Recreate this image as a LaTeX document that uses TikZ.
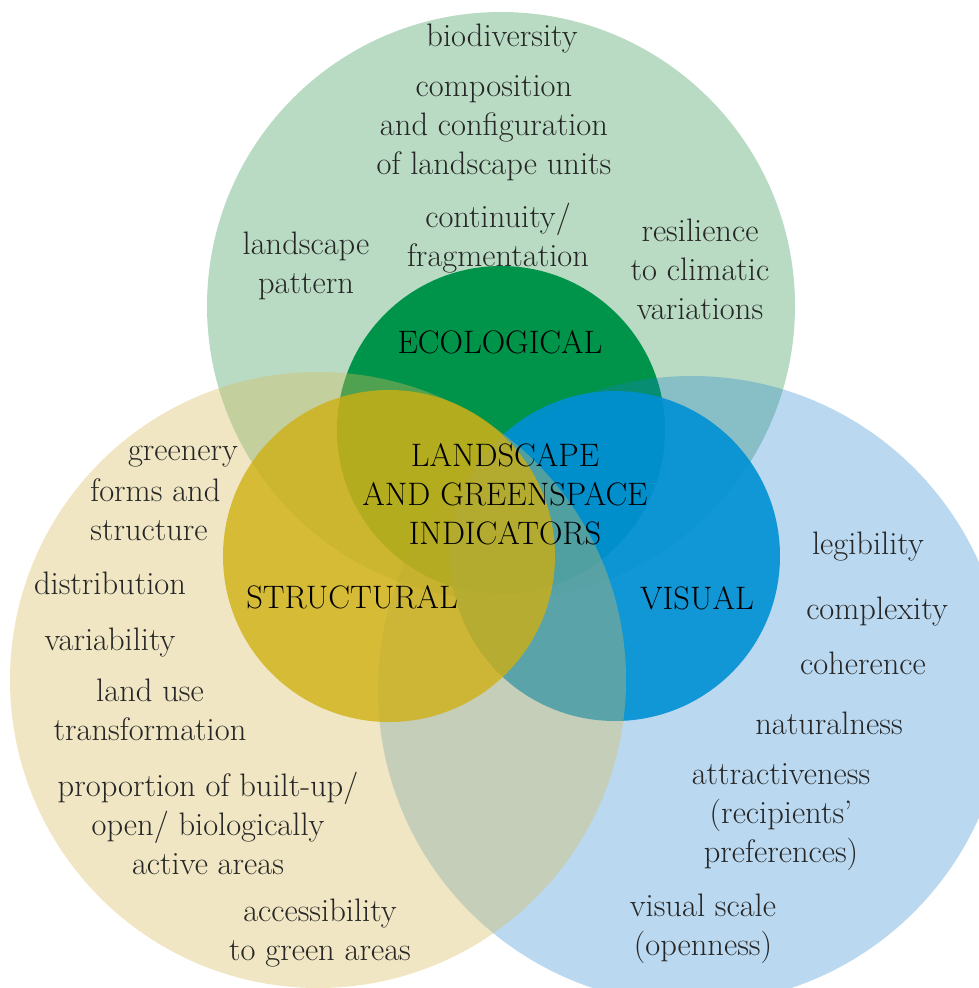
\documentclass[tikz,border=0pt]{standalone}
\usepackage{tikz}
\usetikzlibrary{positioning}
\definecolor{biggreen}{RGB}{185,219,196}
\definecolor{darkgreen}{RGB}{0,148,74}
\definecolor{bigblue}{RGB}{25,128,205}
\definecolor{darkblue}{RGB}{0,144,212}
\definecolor{bigyellow}{RGB}{215,188,94}
\definecolor{darkyellow}{RGB}{208,175,16}
\definecolor{txtgray}{RGB}{38,38,38}

\begin{document}
\begin{tikzpicture}
[x=0.02cm, y=-0.02cm, every node/.style={inner sep=0pt, font=\fontsize{18.5}{22.2}\selectfont}]
% Define styles for circles and texts
\tikzstyle{indtext} = [text=txtgray, align=center]
\tikzstyle{grouptext} = [text=black, align=center]

\useasboundingbox (0,0) rectangle (979,988);
\clip (0,0) rectangle (979,988);

% Circles, one theme after the other
\fill[biggreen] (501,306) circle (294);
\fill[darkgreen] (501,430) circle (164);
\fill[bigblue, fill opacity=0.3] (692,690) circle (314);
\fill[darkblue, fill opacity=0.9] (615,556) circle (165);
\fill[bigyellow, fill opacity=0.373] (318,680) circle (308);
\fill[darkyellow, fill opacity=0.78] (389,556) circle (166);

% Group labels
\node[grouptext] (ecolab) at (500,342) {ECOLOGICAL};
\node[grouptext] (central) at (505,494) {LANDSCAPE\\AND GREENSPACE\\INDICATORS};
\node[grouptext] (strlab) at (352,597) {STRUCTURAL};
\node[grouptext] (vislab) at (697,598) {VISUAL};

% Ecological indicators
\node[indtext] (biodiv) at (502,39) {biodiversity};
\node[indtext] (compos) at (494,128) {composition\\and configuration\\of landscape units};
\node[indtext] (contin) at (498,238) {continuity/\\fragmentation};
\node[indtext] (pattern) at (306,266) {landscape\\pattern};
\node[indtext] (resil) at (700,269) {resilience\\to climatic\\variations};

% Structural indicators
\node[indtext] (greenery) at (183,457) {greenery};
\node[indtext, anchor=west, align=left] (forms) at (90,510) {forms and\\structure};
\node[indtext] (distrib) at (110,583) {distribution};
\node[indtext] (variab) at (110,643) {variability};
\node[indtext] (landuse) at (150,710) {land use\\transformation};
\node[indtext] (proport) at (208,823) {proportion of built-up/\\open/ biologically\\active areas};
\node[indtext] (access) at (320,933) {accessibility\\to green areas};

% Visual indicators
\node[indtext] (legib) at (868,547) {legibility};
\node[indtext] (complex) at (877,612) {complexity};
\node[indtext] (coher) at (863,663) {coherence};
\node[indtext] (natural) at (829,723) {naturalness};
\node[indtext] (attract) at (781,817) {attractiveness\\(recipients'\\preferences)};
\node[indtext] (vscale) at (703,929) {visual scale\\(openness)};
\end{tikzpicture}
\end{document}
